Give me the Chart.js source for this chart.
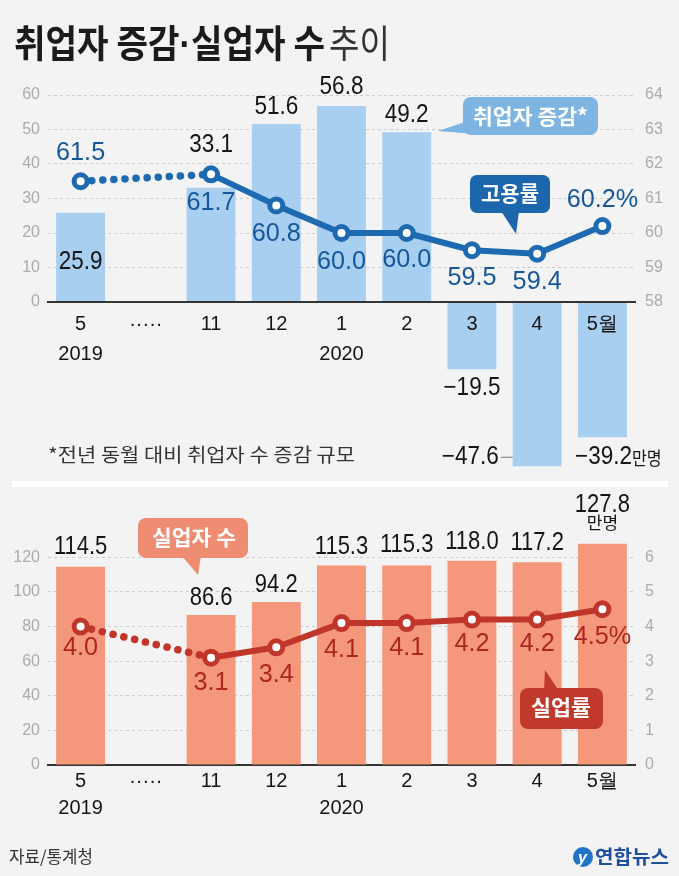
<!DOCTYPE html>
<html><head><meta charset="utf-8">
<script src="https://cdn.jsdelivr.net/npm/chart.js@4.4.1/dist/chart.umd.min.js"></script>
<style>
html,body{margin:0;padding:0;background:#f3f3f3;}
#wrap{position:relative;width:679px;height:876px;overflow:hidden;background:#f3f3f3;}
#bg{position:absolute;left:0;top:0;}
#c1box{position:absolute;left:0;top:70px;width:679px;height:416px;}
#c2box{position:absolute;left:0;top:490px;width:679px;height:340px;}
#ov{position:absolute;left:0;top:0;pointer-events:none;}
</style></head>
<body><div id="wrap">
<svg id="bg" width="679" height="876"><rect x="12" y="481" width="656" height="6" fill="#ffffff"/></svg>
<div id="c1box"><canvas id="c1"></canvas></div>
<div id="c2box"><canvas id="c2"></canvas></div>
<svg id="ov" width="679" height="876" font-family="'Noto Sans CJK KR', sans-serif">
  <text x="14" y="57" font-size="38" font-weight="700" fill="#1b1b1b" textLength="311" lengthAdjust="spacingAndGlyphs">취업자 증감<tspan font-family="'Liberation Sans', sans-serif">·</tspan>실업자 수</text>
  <text x="329" y="57" font-size="38" font-weight="400" fill="#333" textLength="61" lengthAdjust="spacingAndGlyphs">추이</text>

  <path d="M471,120 L476,134 L438,131 Z" fill="#7db4e2"/>
  <rect x="463" y="97" width="135" height="38" rx="8" fill="#7db4e2"/>
  <text x="473" y="124" font-size="21" font-weight="700" fill="#fff" textLength="115" lengthAdjust="spacingAndGlyphs">취업자 증감*</text>

  <path d="M501,211 L519,211 L516,234 Z" fill="#1b66ad"/>
  <rect x="470" y="175" width="80" height="38" rx="7" fill="#1b66ad"/>
  <text x="481" y="201" font-size="21" font-weight="700" fill="#fff" textLength="58" lengthAdjust="spacingAndGlyphs">고용률</text>

  <path d="M182,556 L201,556 L198,575 Z" fill="#ee8d72"/>
  <rect x="138" y="518" width="110" height="40" rx="8" fill="#ee8d72"/>
  <text x="152" y="545" font-size="21" font-weight="700" fill="#fff" textLength="84" lengthAdjust="spacingAndGlyphs">실업자 수</text>

  <path d="M544,691 L559,691 L545,670 Z" fill="#c0392b"/>
  <rect x="520" y="688" width="83" height="41" rx="8" fill="#c0392b"/>
  <text x="531" y="715" font-size="21" font-weight="700" fill="#fff" textLength="60" lengthAdjust="spacingAndGlyphs">실업률</text>

  <text x="48" y="462" font-size="19" font-weight="400" fill="#333" textLength="307" lengthAdjust="spacingAndGlyphs">*전년 동월 대비 취업자 수 증감 규모</text>

  <text x="9" y="863" font-size="17" font-weight="400" fill="#333" textLength="84" lengthAdjust="spacingAndGlyphs">자료/통계청</text>
  <circle cx="583" cy="857" r="10" fill="#1f74c8"/>
  <text x="578" y="863" font-size="16" font-style="italic" font-weight="700" fill="#fff" font-family="'Liberation Sans', sans-serif">y</text>
  <text x="595" y="864" font-size="19" font-weight="700" fill="#1d4f9e" textLength="74" lengthAdjust="spacingAndGlyphs">연합뉴스</text>
</svg>
</div>
<script>
// ---- data ----
const months = [['5', '2019'], '·····', '11', '12', ['1', '2020'], '2', '3', '4', '5월'];
const employChange = [25.9, null, 33.1, 51.6, 56.8, 49.2, -19.5, -47.6, -39.2];   // 만명
const employRate = [61.5, null, 61.7, 60.8, 60.0, 60.0, 59.5, 59.4, 60.2];        // %
const unemployed = [114.5, null, 86.6, 94.2, 115.3, 115.3, 118.0, 117.2, 127.8];  // 만명
const unemployRate = [4.0, null, 3.1, 3.4, 4.1, 4.1, 4.2, 4.2, 4.5];              // %

const NUM_FONT = "'Liberation Sans', Arial, sans-serif";
const CJK_FONT = "'Noto Sans CJK KR', sans-serif";
Chart.defaults.font.family = NUM_FONT;
Chart.defaults.animation = false;

const C = {
  topBar: '#a8cef0', topLine: '#1d6ab0', topLabel: '#15579a',
  botBar: '#f4977b', botLine: '#c1362b', botLabel: '#ad271d',
  grid: '#cdcdcd', tick: '#ababab', axis: '#333333', text: '#151515'
};

function fmt(v) { return (v < 0 ? '\u2212' : '') + Math.abs(v).toFixed(1); }

// draws horizontally condensed text
function sText(ctx, t, x, y, align, sx) {
  ctx.save();
  ctx.translate(x, y);
  ctx.scale(sx, 1);
  ctx.textAlign = align;
  ctx.fillText(t, 0, 0);
  ctx.restore();
}

function labelPlugin(items) {
  return {
    id: 'valueLabels',
    afterDatasetsDraw(chart) {
      const ctx = chart.ctx;
      items.forEach(item => {
        const meta = chart.getDatasetMeta(item.dataset);
        const data = chart.data.datasets[item.dataset].data;
        meta.data.forEach((el, i) => {
          const v = data[i];
          if (v == null) return;
          ctx.save();
          ctx.fillStyle = item.color;
          ctx.font = item.font;
          ctx.textBaseline = 'middle';
          const y = el.y + item.offsets[i];
          if (item.custom && item.custom[i]) {
            item.custom[i](ctx, el, fmt(v), y, item.sx);
          } else {
            sText(ctx, fmt(v), el.x, y, 'center', item.sx);
          }
          ctx.restore();
        });
      });
    }
  };
}

function filterTicks(lo, hi) {
  return scale => { scale.ticks = scale.ticks.filter(t => t.value >= lo - 1e-9 && t.value <= hi + 1e-9); };
}
function fixY(w) {
  return s => { s.width = w; s.paddingTop = 0; s.paddingBottom = 0; };
}
const dotted = c => c.p1DataIndex === 2 ? [0.1, 11] : undefined;
const dottedWidth = c => c.p1DataIndex === 2 ? 7.5 : undefined;

// ---------- top chart ----------
new Chart(document.getElementById('c1'), {
  data: {
    labels: months,
    datasets: [
      {
        type: 'line', data: employRate, yAxisID: 'y1', order: 0,
        borderColor: C.topLine, borderWidth: 6, borderCapStyle: 'round', borderJoinStyle: 'round',
        pointRadius: 6.5, pointBorderWidth: 5, pointBackgroundColor: '#ffffff', pointBorderColor: C.topLine,
        spanGaps: true, tension: 0,
        segment: { borderDash: dotted, borderWidth: dottedWidth }
      },
      {
        type: 'bar', data: employChange, yAxisID: 'y', order: 1,
        backgroundColor: C.topBar, categoryPercentage: 1, barPercentage: 0.75
      }
    ]
  },
  options: {
    responsive: true, maintainAspectRatio: false,
    layout: { padding: { top: 25, bottom: 5.5, left: 0, right: 0 } },
    plugins: { legend: { display: false }, tooltip: { enabled: false } },
    events: [],
    scales: {
      x: {
        position: { y: 0 }, z: 1,
        afterFit: s => { s.paddingTop = 0; s.paddingBottom = 0; s.paddingLeft = 0; s.paddingRight = 0; },
        grid: { display: false, drawTicks: false },
        border: { display: true, color: C.axis, width: 2, z: 1 },
        ticks: { z: 1, color: C.text, font: { size: 20, lineHeight: 1.5 }, padding: 7, autoSkip: false, maxRotation: 0 }
      },
      y: {
        position: 'left', min: -50, max: 60,
        afterBuildTicks: filterTicks(0, 60),
        afterFit: fixY(48),
        grid: { color: C.grid, lineWidth: 1, drawTicks: false },
        border: { display: false, dash: [3, 3] },
        ticks: { stepSize: 10, includeBounds: false, color: C.tick, font: { size: 16 }, padding: 8 }
      },
      y1: {
        position: 'right', min: 53, max: 64,
        afterBuildTicks: filterTicks(58, 64),
        afterFit: fixY(44),
        grid: { display: false, drawTicks: false },
        border: { display: false },
        ticks: { stepSize: 1, includeBounds: false, color: C.tick, font: { size: 16 }, padding: 10 }
      }
    }
  },
  plugins: [labelPlugin([
    {
      dataset: 1, color: C.text, font: "25px " + NUM_FONT, sx: 0.9,
      offsets: [49, 0, -43, -17, -19, -17, 19, -9, 20],
      custom: {
        7: (ctx, el, t, y, sx) => {
          const left = el.x - el.width / 2;
          sText(ctx, t, left - 14, y, 'right', sx);
          ctx.strokeStyle = '#777'; ctx.lineWidth = 1;
          ctx.beginPath(); ctx.moveTo(left - 12, y); ctx.lineTo(left, y); ctx.stroke();
        },
        8: (ctx, el, t, y, sx) => {
          const w1 = ctx.measureText(t).width * sx;
          ctx.font = "18px " + CJK_FONT;
          const w2 = ctx.measureText('만명').width * 0.9;
          const start = el.x + 16 - (w1 + w2) / 2;
          sText(ctx, '만명', start + w1, y + 1, 'left', 0.9);
          ctx.font = "25px " + NUM_FONT;
          sText(ctx, t, start, y, 'left', sx);
        }
      }
    },
    {
      dataset: 0, color: C.topLabel, font: "26px " + NUM_FONT, sx: 0.97,
      offsets: [-28, 0, 28, 28, 29, 27, 28, 28, -26],
      custom: { 8: (ctx, el, t, y, sx) => sText(ctx, t + '%', el.x, y, 'center', sx) }
    }
  ])]
});

// ---------- bottom chart ----------
new Chart(document.getElementById('c2'), {
  data: {
    labels: months,
    datasets: [
      {
        type: 'line', data: unemployRate, yAxisID: 'y1', order: 0,
        borderColor: C.botLine, borderWidth: 6, borderCapStyle: 'round', borderJoinStyle: 'round',
        pointRadius: 6.5, pointBorderWidth: 5, pointBackgroundColor: '#ffffff', pointBorderColor: C.botLine,
        spanGaps: true, tension: 0,
        segment: { borderDash: dotted, borderWidth: dottedWidth }
      },
      {
        type: 'bar', data: unemployed, yAxisID: 'y', order: 1,
        backgroundColor: C.botBar, categoryPercentage: 1, barPercentage: 0.75
      }
    ]
  },
  options: {
    responsive: true, maintainAspectRatio: false,
    layout: { padding: { top: 50, bottom: 0, left: 0, right: 0 } },
    plugins: { legend: { display: false }, tooltip: { enabled: false } },
    events: [],
    scales: {
      x: {
        position: 'bottom',
        afterFit: s => { s.height = 65; },
        grid: { display: false, drawTicks: false },
        border: { display: true, color: C.axis, width: 2 },
        ticks: { color: C.text, font: { size: 20, lineHeight: 1.35 }, padding: 3, autoSkip: false, maxRotation: 0 }
      },
      y: {
        position: 'left', min: 0, max: 130,
        afterBuildTicks: filterTicks(0, 120),
        afterFit: fixY(48),
        grid: { color: C.grid, lineWidth: 1, drawTicks: false },
        border: { display: false, dash: [3, 3] },
        ticks: { stepSize: 20, includeBounds: false, color: C.tick, font: { size: 16 }, padding: 8 }
      },
      y1: {
        position: 'right', min: 0, max: 6.5,
        afterBuildTicks: filterTicks(0, 6),
        afterFit: fixY(44),
        grid: { display: false, drawTicks: false },
        border: { display: false },
        ticks: { stepSize: 1, includeBounds: false, color: C.tick, font: { size: 16 }, padding: 10 }
      }
    }
  },
  plugins: [labelPlugin([
    {
      dataset: 1, color: C.text, font: "25px " + NUM_FONT, sx: 0.88,
      offsets: [-20, 0, -17, -17, -18, -20, -18.5, -19, -38.5],
      custom: {
        8: (ctx, el, t, y, sx) => {
          sText(ctx, t, el.x, y, 'center', sx);
          ctx.font = "17px " + CJK_FONT;
          sText(ctx, '만명', el.x, y + 17, 'center', 1);
        }
      }
    },
    {
      dataset: 0, color: C.botLabel, font: "26px " + NUM_FONT, sx: 0.97,
      offsets: [21, 0, 25, 28, 27, 25, 24, 24, 28],
      custom: { 8: (ctx, el, t, y, sx) => sText(ctx, t + '%', el.x, y, 'center', sx) }
    }
  ])]
});
</script>
</body></html>
